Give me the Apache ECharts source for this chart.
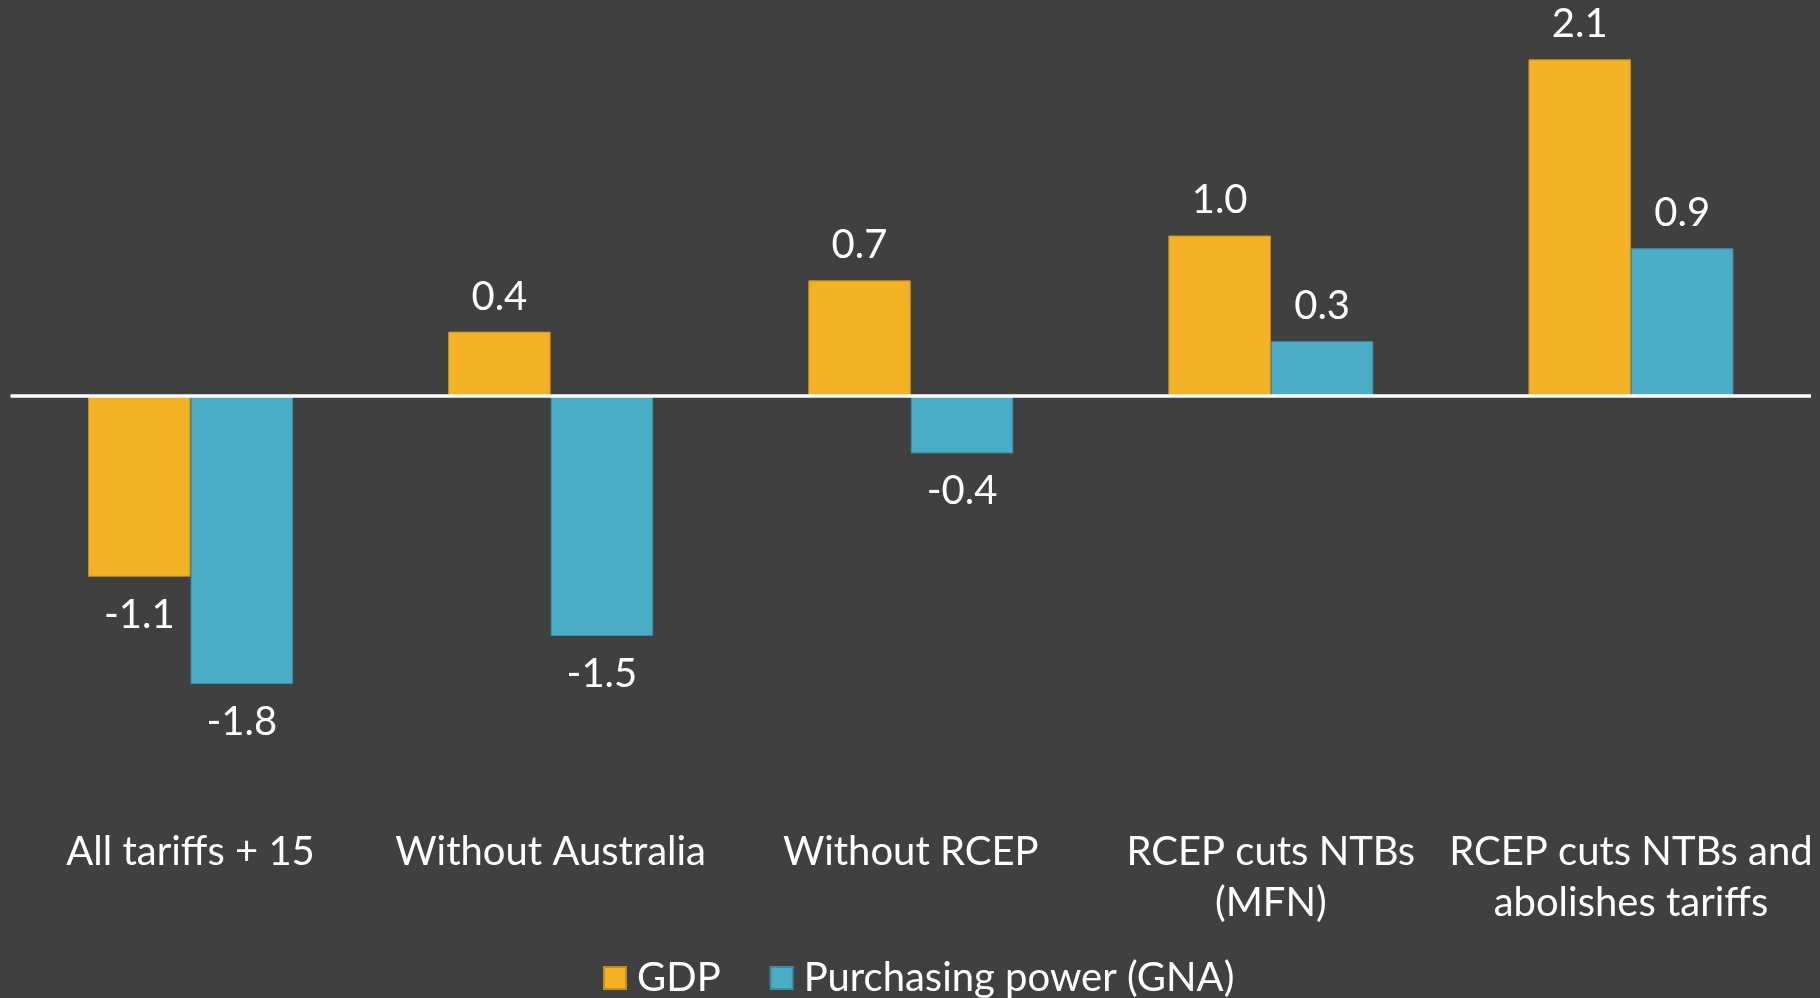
<!DOCTYPE html>
<html>
<head>
<meta charset="utf-8">
<script src="https://cdn.jsdelivr.net/npm/echarts@6/dist/echarts.min.js"></script>
<style>
html,body{margin:0;padding:0;background:#404040;}
#chart{width:1820px;height:998px;}
</style>
</head>
<body>
<div id="chart"></div>
<script>
const categories = ['All tariffs + 15', 'Without Australia', 'Without RCEP', 'RCEP cuts NTBs\n(MFN)', 'RCEP cuts NTBs and\nabolishes tariffs'];
const gdp = [-1.13, 0.40, 0.72, 1.00, 2.10];
const purchasingPower = [-1.80, -1.50, -0.36, 0.34, 0.92];
const seriesNames = ['GDP', 'Purchasing power (GNA)'];

const FONT = 'Lato, "Open Sans", sans-serif';
const FS = 40;

function items(arr) {
  return arr.map(v => ({
    value: v,
    label: v < 0 ? { position: 'bottom', distance: 18 } : { position: 'top', distance: 15 }
  }));
}

const chart = echarts.init(document.getElementById('chart'));
chart.setOption({
  backgroundColor: '#404040',
  animation: false,
  textStyle: { fontFamily: FONT },
  grid: { left: 10.5, right: 9, top: 11.2, bottom: 217.8, outerBoundsMode: 'none', containLabel: false },
  legend: {
    data: seriesNames,
    left: 598,
    top: 953,
    icon: 'rect',
    itemWidth: 22,
    itemHeight: 22,
    itemGap: 49,
    textStyle: { color: '#ffffff', fontSize: FS, fontFamily: FONT, padding: [0, 0, 0, 6] }
  },
  xAxis: {
    type: 'category',
    data: categories,
    axisLine: { show: false, onZero: false },
    axisTick: { show: false },
    axisLabel: { color: '#ffffff', fontSize: FS, fontFamily: FONT, lineHeight: 51, margin: 46.5, interval: 0 }
  },
  yAxis: {
    type: 'value',
    min: -2.4,
    max: 2.4,
    axisLine: { show: false },
    axisTick: { show: false },
    axisLabel: { show: false },
    splitLine: { show: false }
  },
  series: [
    {
      name: seriesNames[0],
      type: 'bar',
      barWidth: 102.5,
      barGap: '0%',
      data: items(gdp),
      itemStyle: { color: '#F3B225', borderColor: '#C98F1A', borderWidth: 1 },
      label: { show: true, color: '#ffffff', fontSize: FS, fontFamily: FONT, formatter: p => p.value.toFixed(1) },
      markLine: {
        silent: true,
        symbol: ['none', 'none'],
        label: { show: false },
        lineStyle: { color: '#ffffff', width: 3.5, type: 'solid' },
        data: [{ yAxis: 0 }],
        z: 10
      }
    },
    {
      name: seriesNames[1],
      type: 'bar',
      barWidth: 102.5,
      barGap: '0%',
      data: items(purchasingPower),
      itemStyle: { color: '#4BACC6', borderColor: '#3B8DA3', borderWidth: 1 },
      label: { show: true, color: '#ffffff', fontSize: FS, fontFamily: FONT, formatter: p => p.value.toFixed(1) }
    }
  ]
});
</script>
</body>
</html>
